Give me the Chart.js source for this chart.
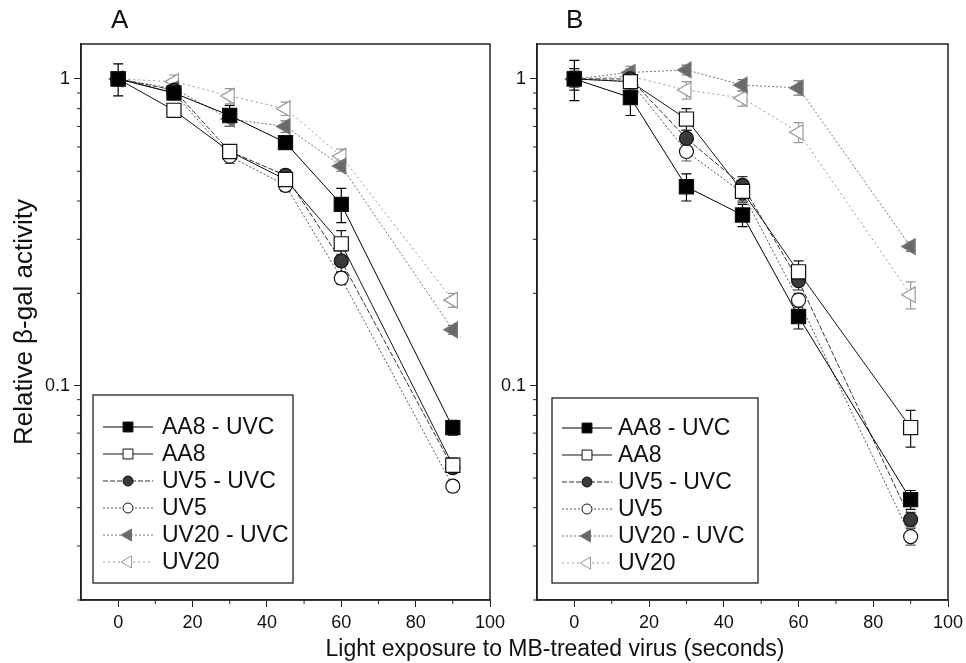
<!DOCTYPE html>
<html><head><meta charset="utf-8">
<script src="https://cdn.jsdelivr.net/npm/chart.js@4.4.0/dist/chart.umd.min.js"></script>
<style>
body{margin:0;background:#fff;width:966px;height:663px;overflow:hidden;position:relative;font-family:"Liberation Sans",Arial,sans-serif;}
canvas{position:absolute;top:0;}
#cA{left:0}
#cB{left:495px}
.lbl{position:absolute;color:#111;line-height:1;white-space:nowrap;}
</style></head><body>
<canvas id="cB" width="471" height="663"></canvas>
<canvas id="cA" width="520" height="663"></canvas>
<div class="lbl" style="left:111px;top:6px;font-size:26px">A</div>
<div class="lbl" style="left:566px;top:6px;font-size:26px">B</div>
<div class="lbl" style="left:255px;width:600px;text-align:center;top:637px;font-size:23px">Light exposure to MB-treated virus (seconds)</div>
<script>
// ---------- data ----------
const exposure = [0, 15, 30, 45, 60, 90];
const seriesNames = ["AA8 - UVC", "AA8", "UV5 - UVC", "UV5", "UV20 - UVC", "UV20"];

// Panel A
const A_AA8_UVC  = [1.0, 0.90, 0.76, 0.62, 0.39, 0.073];
const A_AA8      = [1.0, 0.79, 0.58, 0.47, 0.29, 0.055];
const A_UV5_UVC  = [1.0, 0.92, 0.58, 0.485, 0.255, 0.054];
const A_UV5      = [1.0, 0.90, 0.56, 0.45, 0.224, 0.047];
const A_UV20_UVC = [1.0, 0.93, 0.74, 0.70, 0.52, 0.152];
const A_UV20     = [1.0, 0.98, 0.88, 0.80, 0.56, 0.19];
// Panel A error (absolute)
const A_AA8_UVC_err  = [0.12, 0.03, 0.06, 0.03, 0.05, 0.004];
const A_AA8_err      = [0.05, 0.03, 0.03, 0.02, 0.03, 0.003];
const A_UV5_UVC_err  = [0.05, 0.04, 0.03, 0.02, 0.02, 0.002];
const A_UV5_err      = [0.04, 0.04, 0.03, 0.02, 0.01, 0.002];
const A_UV20_UVC_err = [0.05, 0.04, 0.04, 0.03, 0.02, 0.005];
const A_UV20_err     = [0.05, 0.05, 0.05, 0.04, 0.03, 0.01];

// Panel B
const B_AA8_UVC  = [1.0, 0.87, 0.445, 0.36, 0.168, 0.0425];
const B_AA8      = [1.0, 0.98, 0.74, 0.43, 0.235, 0.073];
const B_UV5_UVC  = [1.0, 1.0, 0.64, 0.45, 0.22, 0.0366];
const B_UV5      = [1.0, 0.98, 0.58, 0.425, 0.19, 0.0322];
const B_UV20_UVC = [1.0, 1.05, 1.07, 0.955, 0.935, 0.284];
const B_UV20     = [1.0, 1.02, 0.92, 0.866, 0.67, 0.198];
// Panel B error (absolute)
const B_AA8_UVC_err  = [0.15, 0.11, 0.045, 0.03, 0.015, 0.003];
const B_AA8_err      = [0.08, 0.05, 0.06, 0.03, 0.02, 0.01];
const B_UV5_UVC_err  = [0.06, 0.06, 0.04, 0.03, 0.015, 0.002];
const B_UV5_err      = [0.05, 0.06, 0.04, 0.03, 0.01, 0.002];
const B_UV20_UVC_err = [0.05, 0.05, 0.04, 0.04, 0.05, 0.01];
const B_UV20_err     = [0.05, 0.06, 0.06, 0.05, 0.05, 0.02];

// ticks
const xMajorTicks = [0, 20, 40, 60, 80, 100];
const xMinorTicks = [10, 30, 50, 70, 90];
const yMajorTicks = [0.1, 1];
const yTickLabels = ["0.1", "1"];
const yMinorTicks = [0.02, 0.03, 0.04, 0.05, 0.06, 0.07, 0.08, 0.09, 0.2, 0.3, 0.4, 0.5, 0.6, 0.7, 0.8, 0.9];
const yTitle = "Relative \u03b2-gal activity";

// ---------- styles ----------
const FONT = '"Liberation Sans", Arial, sans-serif';
Chart.defaults.font.family = FONT;
Chart.defaults.color = '#111';
const styles = [
  {line:'#000', dash:[],    fill:'#000',    shape:'rect',     r:10, rot:0,   lr:7},
  {line:'#151515', dash:[], fill:'#fff',    shape:'rect',     r:10, rot:0,   lr:7},
  {line:'#333', dash:[5,2], fill:'#3a3a3a', shape:'circle',   r:7,  rot:0,   lr:5},
  {line:'#555', dash:[2,2], fill:'#fff',    shape:'circle',   r:7,  rot:0,   lr:5},
  {line:'#777', dash:[2,2], fill:'#6a6a6a', shape:'triangle', r:9,  rot:-90, lr:7},
  {line:'#9a9a9a', dash:[2,3], fill:'#fff', shape:'triangle', r:9,  rot:-90, lr:7}
];

function makeDatasets(vals, errs) {
  return vals.map((v, i) => ({
    label: seriesNames[i],
    data: exposure.map((x, j) => ({x: x, y: v[j]})),
    errors: errs[i],
    borderColor: styles[i].line,
    borderDash: styles[i].dash,
    borderWidth: 1,
    backgroundColor: styles[i].fill,
    pointBackgroundColor: styles[i].fill,
    pointBorderColor: styles[i].shape === 'triangle' ? styles[i].line : '#111',
    pointBorderWidth: 1.2,
    pointStyle: styles[i].shape,
    pointRotation: styles[i].rot,
    pointRadius: styles[i].r,
    tension: 0,
    fill: false
  }));
}

// ---------- plugins ----------
const errorBars = {
  id: 'errorBars',
  beforeDatasetsDraw(chart) {
    const ctx = chart.ctx, ys = chart.scales.y;
    chart.data.datasets.forEach((ds, i) => {
      const meta = chart.getDatasetMeta(i);
      ctx.save();
      ctx.strokeStyle = ds.borderColor;
      ctx.lineWidth = 1.2;
      ctx.setLineDash([]);
      meta.data.forEach((pt, j) => {
        const v = ds.data[j].y, e = ds.errors[j];
        const y1 = ys.getPixelForValue(v + e), y2 = ys.getPixelForValue(Math.max(v - e, 1e-4));
        ctx.beginPath();
        ctx.moveTo(pt.x, y1); ctx.lineTo(pt.x, y2);
        ctx.moveTo(pt.x - 5, y1); ctx.lineTo(pt.x + 5, y1);
        ctx.moveTo(pt.x - 5, y2); ctx.lineTo(pt.x + 5, y2);
        ctx.stroke();
      });
      ctx.restore();
    });
  }
};

function drawMarker(ctx, shape, x, y, r, rot) {
  ctx.beginPath();
  if (shape === 'rect') {
    const s = r * Math.SQRT1_2;
    ctx.rect(x - s, y - s, 2 * s, 2 * s);
  } else if (shape === 'circle') {
    ctx.arc(x, y, r, 0, Math.PI * 2);
  } else {
    const a = rot * Math.PI / 180;
    for (let k = 0; k < 3; k++) {
      const ang = a + k * 2 * Math.PI / 3;
      const px = x + Math.sin(ang) * r, py = y - Math.cos(ang) * r;
      if (k === 0) ctx.moveTo(px, py); else ctx.lineTo(px, py);
    }
    ctx.closePath();
  }
  ctx.fill(); ctx.stroke();
}

const frameAndLegend = {
  id: 'frameAndLegend',
  afterDraw(chart, args, opts) {
    const ctx = chart.ctx, a = chart.chartArea;
    const xs = chart.scales.x, ys = chart.scales.y;
    ctx.save();
    ctx.strokeStyle = '#222';
    ctx.lineWidth = 1.5;
    ctx.setLineDash([]);
    ctx.strokeRect(a.left, a.top, a.right - a.left, a.bottom - a.top);
    // minor ticks
    ctx.lineWidth = 1;
    ctx.beginPath();
    xMinorTicks.forEach(v => { const px = xs.getPixelForValue(v); ctx.moveTo(px, a.bottom); ctx.lineTo(px, a.bottom + 4); });
    yMinorTicks.forEach(v => { const py = ys.getPixelForValue(v); ctx.moveTo(a.left, py); ctx.lineTo(a.left - 4, py); });
    ctx.stroke();
    // legend box
    const L = opts.box;
    const bx = a.left + L.dx, by = L.top, bw = L.w, bh = L.h;
    ctx.lineWidth = 1.3;
    ctx.strokeStyle = '#222';
    ctx.strokeRect(bx, by, bw, bh);
    ctx.font = '23px ' + FONT;
    ctx.textBaseline = 'middle';
    ctx.fillStyle = '#111';
    chart.data.datasets.forEach((ds, i) => {
      const st = styles[i];
      const y = by + L.first + i * L.step;
      ctx.save();
      ctx.strokeStyle = st.line; ctx.lineWidth = 1; ctx.setLineDash(st.dash);
      ctx.beginPath(); ctx.moveTo(bx + 10, y); ctx.lineTo(bx + 60, y); ctx.stroke();
      ctx.setLineDash([]);
      ctx.fillStyle = st.fill;
      ctx.strokeStyle = st.shape === 'triangle' ? st.line : '#111';
      drawMarker(ctx, st.shape, bx + 35, y, st.lr, st.rot);
      ctx.restore();
      ctx.fillText(ds.label, bx + L.text, y + 1);
    });
    ctx.restore();
  }
};

function makeChart(id, vals, errs, yAxisWidth, padRight, showTitle, legendBox) {
  return new Chart(document.getElementById(id), {
    type: 'line',
    data: { datasets: makeDatasets(vals, errs) },
    plugins: [errorBars, frameAndLegend],
    options: {
      responsive: false,
      animation: false,
      events: [],
      layout: { padding: { left: 0, top: 44, right: padRight, bottom: 33 } },
      plugins: {
        legend: { display: false },
        tooltip: { enabled: false },
        frameAndLegend: { box: legendBox }
      },
      scales: {
        x: {
          type: 'linear', min: -10, max: 100,
          afterBuildTicks: s => { s.ticks = xMajorTicks.map(v => ({value: v})); },
          afterFit: s => { s.height = 30; s.paddingLeft = 0; s.paddingRight = 0; },
          ticks: { font: { size: 18 }, color: '#111', padding: 5, maxRotation: 0, callback: v => String(v) },
          grid: { drawOnChartArea: false, tickLength: 7, color: '#222', tickWidth: 1 },
          border: { display: true, color: '#222', width: 1.5 }
        },
        y: {
          type: 'logarithmic', min: 0.02, max: 1.3,
          afterBuildTicks: s => { s.ticks = yMajorTicks.map(v => ({value: v})); },
          afterFit: s => { s.width = yAxisWidth; s.paddingTop = 0; s.paddingBottom = 0; },
          ticks: { font: { size: 18 }, color: '#111', padding: 4, callback: (v, i) => yTickLabels[i] },
          grid: { drawOnChartArea: false, tickLength: 7, color: '#222', tickWidth: 1 },
          border: { display: true, color: '#222', width: 1.5 },
          title: { display: showTitle, text: yTitle, font: { size: 26 }, color: '#111', padding: { top: 9, bottom: 0 } }
        }
      }
    }
  });
}

makeChart('cA',
  [A_AA8_UVC, A_AA8, A_UV5_UVC, A_UV5, A_UV20_UVC, A_UV20],
  [A_AA8_UVC_err, A_AA8_err, A_UV5_UVC_err, A_UV5_err, A_UV20_UVC_err, A_UV20_err],
  81, 30, true, { dx: 12, top: 395, w: 200, h: 188, first: 32, step: 27, text: 69 });

makeChart('cB',
  [B_AA8_UVC, B_AA8, B_UV5_UVC, B_UV5, B_UV20_UVC, B_UV20],
  [B_AA8_UVC_err, B_AA8_err, B_UV5_UVC_err, B_UV5_err, B_UV20_UVC_err, B_UV20_err],
  42, 18, false, { dx: 15, top: 398, w: 206, h: 185, first: 30, step: 27, text: 66 });
</script>
</body></html>
